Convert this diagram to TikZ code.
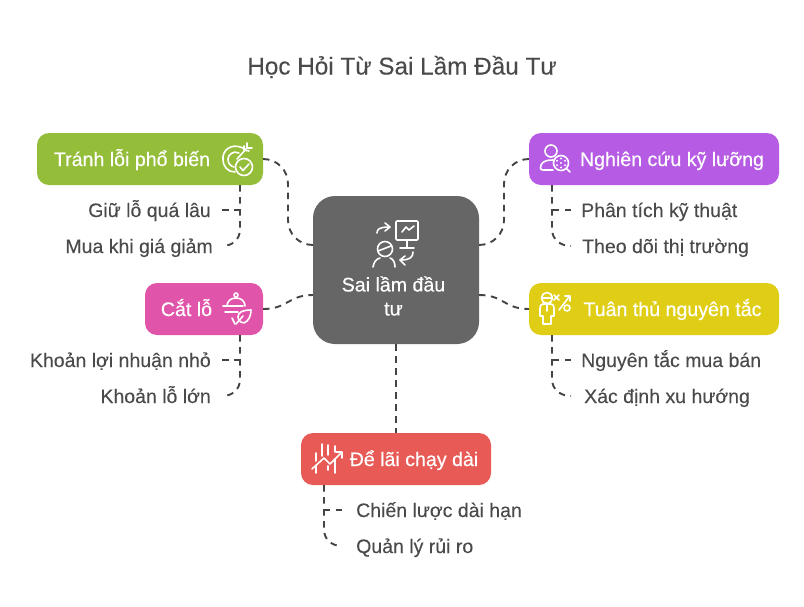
\documentclass[tikz,border=0pt]{standalone}
\usepackage{fontspec}
\setmainfont{Liberation Sans}
\newfontfamily\medfont[FakeBold=0.45]{Liberation Sans}
\newfontfamily\subfont[FakeBold=0.1]{Liberation Sans}
\usetikzlibrary{calc}
\definecolor{ink}{HTML}{4A4A4A}
\definecolor{lineink}{HTML}{444444}
\definecolor{cCenter}{HTML}{666666}
\definecolor{cGreen}{HTML}{94BD3A}
\definecolor{cPurple}{HTML}{B65BE3}
\definecolor{cPink}{HTML}{E055AA}
\definecolor{cYellow}{HTML}{E0CE16}
\definecolor{cRed}{HTML}{E85A55}
\tikzset{
  x=1pt,y=-1pt,
  box/.style={rounded corners=12pt,minimum height=52pt,inner sep=0pt,outer sep=0pt,text=white},
  hub/.style={fill=cCenter,rounded corners=22pt,minimum width=166pt,minimum height=148pt,inner sep=0pt,outer sep=0pt},
  boxtext/.style={text=white,inner sep=0pt,anchor=base,font=\fontsize{19.6}{24}\medfont},
  sub/.style={text=ink,inner sep=0pt,font=\fontsize{19.5}{24}\subfont},
  subl/.style={sub,anchor=base east},
  subr/.style={sub,anchor=base west},
  conn/.style={draw=lineink,line width=1.9pt,dash pattern=on 6.5pt off 5.5pt},
  ic/.style={draw=white,line width=1.6pt,line cap=round,line join=round},
  dotw/.style={fill=white,draw=none}
}
\begin{document}
\begin{tikzpicture}
\useasboundingbox (0,0) rectangle (804,606);
\fill[white] (0,0) rectangle (804,606);
% title
\node[text=ink,inner sep=0pt,anchor=base,font=\fontsize{24.3}{28}\subfont] (title) at (402,74.5) {Học Hỏi Từ Sai Lầm Đầu Tư};
% boxes
\node[hub] (hub) at (396,270) {};
\node[box,fill=cGreen,minimum width=226pt] (avoid) at (150,159) {};
\node[box,fill=cPurple,minimum width=250pt] (research) at (654,159) {};
\node[box,fill=cPink,minimum width=118pt] (cut) at (204,309) {};
\node[box,fill=cYellow,minimum width=250pt] (rules) at (654,309) {};
\node[box,fill=cRed,minimum width=190pt] (long) at (396,459) {};
% box texts
\node[text=white,inner sep=0pt,align=center,font=\fontsize{19.6}{24}\medfont] (hubtext) at (393.5,296) {Sai lầm đầu\\tư};
\node[boxtext] (avoidt) at (132,166) {Tránh lỗi phổ biến};
\node[boxtext] (researcht) at (672,166) {Nghiên cứu kỹ lưỡng};
\node[boxtext] (cutt) at (186.5,316) {Cắt lỗ};
\node[boxtext] (rulest) at (672.5,316) {Tuân thủ nguyên tắc};
\node[boxtext] (longt) at (414,466) {Để lãi chạy dài};
% sub labels
\node[subl] (a1) at (211,217) {Giữ lỗ quá lâu};
\node[subl] (a2) at (213,253) {Mua khi giá giảm};
\node[subl] (c1) at (211,367) {Khoản lợi nhuận nhỏ};
\node[subl] (c2) at (211,403) {Khoản lỗ lớn};
\node[subr] (r1) at (581,217) {Phân tích kỹ thuật};
\node[subr] (r2) at (582,253) {Theo dõi thị trường};
\node[subr] (u1) at (581,367) {Nguyên tắc mua bán};
\node[subr] (u2) at (584,403) {Xác định xu hướng};
\node[subr] (l1) at (356,517) {Chiến lược dài hạn};
\node[subr] (l2) at (356,553) {Quản lý rủi ro};
% hub connectors
\draw[conn] (avoid.east) .. controls +(14,0) and +(0,-14) .. ++(25,25) -- ++(0,36) .. controls +(0,14) and +(-14,0) .. ($(hub.west)+(0,-25)$);
\draw[conn] ($(hub.east)+(0,-25)$) .. controls +(14,0) and +(0,14) .. ++(25,-25) -- ++(0,-36) .. controls +(0,-14) and +(-14,0) .. (research.west);
\draw[conn] (cut.east) .. controls +(25,0) and +(-25,0) .. ($(hub.west)+(0,25)$);
\draw[conn] ($(hub.east)+(0,25)$) .. controls +(25,0) and +(-25,0) .. (rules.west);
\draw[conn] (hub.south) -- (long.north);
% sub connectors, left side
\coordinate (ta) at ([xshift=-23pt]avoid.south east);
\coordinate (ea1) at ([xshift=11pt,yshift=7pt]a1.base east);
\coordinate (ea2) at ([xshift=9pt,yshift=7pt]a2.base east);
\draw[conn] (ta) -- ++(0,44) .. controls +(0,11) and +(10,0) .. (ea2);
\draw[conn] (ea1) -- (ta |- ea1);
\coordinate (tc) at ([xshift=-23pt]cut.south east);
\coordinate (ec1) at ([xshift=11pt,yshift=7pt]c1.base east);
\coordinate (ec2) at ([xshift=11pt,yshift=7pt]c2.base east);
\draw[conn] (tc) -- ++(0,44) .. controls +(0,11) and +(10,0) .. (ec2);
\draw[conn] (ec1) -- (tc |- ec1);
% sub connectors, right side
\coordinate (tr) at ([xshift=23pt]research.south west);
\coordinate (er1) at ([xshift=-10pt,yshift=7pt]r1.base west);
\coordinate (er2) at ([xshift=-11pt,yshift=7pt]r2.base west);
\draw[conn] (tr) -- ++(0,44) .. controls +(0,11) and +(-10,0) .. (er2);
\draw[conn] (er1) -- (tr |- er1);
\coordinate (tu) at ([xshift=23pt]rules.south west);
\coordinate (eu1) at ([xshift=-10pt,yshift=7pt]u1.base west);
\coordinate (eu2) at ([xshift=-13pt,yshift=7pt]u2.base west);
\draw[conn] (tu) -- ++(0,44) .. controls +(0,11) and +(-10,0) .. (eu2);
\draw[conn] (eu1) -- (tu |- eu1);
\coordinate (tl) at ([xshift=23pt]long.south west);
\coordinate (el1) at ([xshift=-14pt,yshift=7pt]l1.base west);
\coordinate (el2) at ([xshift=-14pt,yshift=7pt]l2.base west);
\draw[conn] (tl) -- ++(0,44) .. controls +(0,11) and +(-10,0) .. (el2);
\draw[conn] (el1) -- (tl |- el1);
% hub icon
\draw[ic,rounded corners=1pt] (396,221) rectangle (418,240);
\draw[ic] (407,240) -- (407,247) (400,248) -- (414,248);
\draw[ic] (402,232) -- (406,227) -- (409,230) -- (414,226);
\draw[ic] (377,233) .. controls (377,229) and (380,227) .. (389,227);
\draw[ic] (385,223) -- (390,227) -- (385,231);
\draw[ic] (385,249) circle[radius=7.5pt];
\draw[ic] (378,251) -- (391,246);
\draw[ic] (373,267) .. controls (374,262) and (376,259) .. (380,258);
\draw[ic] (390,258) .. controls (393,259) and (395,262) .. (395,267);
\draw[ic] (413,252) .. controls (413,257) and (410,260) .. (401,260);
\draw[ic] (405,256) -- (400,260) -- (405,265);
% avoid icon
\draw[ic] (243,148) .. controls (230,142) and (222,152) .. (223,159) .. controls (223,167) and (228,172) .. (235,172);
\draw[ic] (239,153) .. controls (233,150) and (228,155) .. (228,159) .. controls (228,163) and (230,166) .. (234,167);
\draw[ic] (237,159) -- (247,148);
\draw[ic] (244,146) -- (244,150) -- (249,151) (247,143) -- (247,148) -- (252,148);
\draw[ic] (244,167) circle[radius=8.5pt];
\draw[ic] (240,167) -- (243,170.5) -- (249,164);
% research icon
\draw[ic] (551,151) circle[radius=6pt];
\draw[ic] (553,170) -- (543,170) .. controls (540,170) and (540,167) .. (541,165) .. controls (543,161) and (547,160) .. (553,160);
\draw[ic] (561,163) circle[radius=7.5pt];
\draw[ic] (566.5,168.5) -- (570,172);
\foreach \px/\py in {561/158.5,561/163,561/167.5,557/160.8,557/165.2,565/160.8,565/165.2}
  \fill[dotw] (\px,\py) circle[radius=1.1pt];
% cut icon
\draw[ic] (236,295) circle[radius=2pt];
\draw[ic] (227,306) .. controls (227,301) and (231,298) .. (236,298) .. controls (241,298) and (245,301) .. (245,306);
\draw[ic] (223,306) -- (243,306);
\draw[ic] (225,312) -- (238,312);
\draw[ic] (251,310) .. controls (243,310) and (238,312) .. (238,317) .. controls (238,322) and (244,325) .. (247,321) .. controls (250,318) and (251,314) .. (251,310);
\draw[ic] (236,324) -- (243,316);
\draw[ic] (232,318) -- (235,324);
% rules icon
\draw[ic] (547,298) circle[radius=5.5pt];
\draw[ic] (542,298) -- (552,298);
\draw[ic] (543,304) -- (551,304) .. controls (553,304) and (554,306) .. (554,308) -- (554,316) -- (551,316) -- (551,324) -- (543,324) -- (543,316) -- (540,316) -- (540,308) .. controls (540,306) and (541,304) .. (543,304);
\draw[ic] (547,304) -- (547,311);
\draw[ic] (554,295) -- (559,300) (559,295) -- (554,300);
\draw[ic] (559,310) -- (569,297);
\draw[ic] (565,296) -- (570,296) -- (570,301);
\draw[ic] (567,308) circle[radius=3pt];
% long icon
\draw[ic] (316,453) -- (316,461) (316,466) -- (316,473);
\draw[ic] (322,444) -- (322,456);
\draw[ic] (328,445) -- (328,455) (328,466) -- (328,470);
\draw[ic] (335,446) -- (335,452) (335,459) -- (335,473);
\draw[ic] (312,469) -- (324,458) -- (330,464) -- (341,453);
\draw[ic] (336,452) -- (342,452) -- (342,458);
\end{tikzpicture}
\end{document}
